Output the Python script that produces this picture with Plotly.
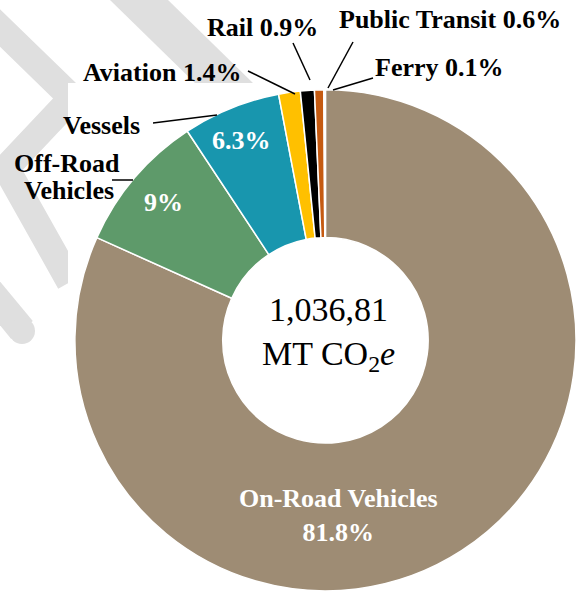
import plotly.graph_objects as go

# Transportation emissions by source (share of total, %)
labels = ['On-Road Vehicles', 'Off-Road Vehicles', 'Vessels', 'Aviation',
          'Rail', 'Public Transit', 'Ferry']
shares = [81.8, 9, 6.3, 1.4, 0.9, 0.6, 0.1]
colors = ['#9e8c74', '#5e9a6a', '#1896ae', '#ffc000',
          '#000000', '#c55a11', '#f4d6c0']
total_text = '1,036,81'

W, H = 576, 596
FONT = 'Liberation Serif, Times New Roman, Times, serif'


def px(x):
    return x / W


def py(y):
    return 1 - y / H


def path(points, close=True):
    s = 'M ' + ' L '.join(f'{px(x):.4f},{py(y):.4f}' for x, y in points)
    return s + (' Z' if close else '')


fig = go.Figure()

fig.add_trace(go.Pie(
    labels=labels,
    values=shares,
    marker=dict(colors=colors, line=dict(color='white', width=1.5)),
    hole=0.41,
    sort=False,
    direction='clockwise',
    rotation=0,
    textinfo='none',
    hovertemplate='%{label}: %{value}%<extra></extra>',
    showlegend=False,
    domain=dict(x=[0.13, 1.0], y=[0.006, 0.852]),
))

# grey watermark in the background, then the white panel behind the chart
grey = '#dfdfdf'
shapes = [
    dict(type='path', path=path([(110, 0), (168, 0), (255, 85), (197, 85)]),
         fillcolor=grey, line=dict(width=0), layer='below'),
    dict(type='path', path=path([(-35, -6), (72, 98), (6, 168), (70, 282)], close=False),
         line=dict(color=grey, width=27), layer='below'),
    dict(type='path', path=path([(-40, 255), (22, 330)], close=False),
         line=dict(color=grey, width=28), layer='below'),
    dict(type='circle', x0=px(9), x1=px(35), y0=py(318), y1=py(344),
         fillcolor=grey, line=dict(width=0), layer='below'),
    dict(type='rect', x0=px(68), x1=1, y0=0, y1=py(83),
         fillcolor='white', line=dict(width=0), layer='below'),
]

# leader lines
leaders = [
    ((293, 43), (310, 80)),    # Rail
    ((353, 42), (328, 88)),    # Public Transit
    ((373, 78), (333, 90)),    # Ferry
    ((248, 71), (295, 94)),    # Aviation
    ((153, 123), (217, 115)),  # Vessels
    ((112, 180), (133, 180)),  # Off-Road
]
for (x0, y0), (x1, y1) in leaders:
    shapes.append(dict(type='line', x0=px(x0), y0=py(y0), x1=px(x1), y1=py(y1),
                       line=dict(color='black', width=1.5)))

def pct(v):
    return f'{v:g}%'

# label text and position (pixel centre), colour
notes = [
    (f'{labels[4]} {pct(shares[4])}', 262, 27, 'black'),
    (f'{labels[5]} {pct(shares[5])}', 450, 19, 'black'),
    (f'{labels[6]} {pct(shares[6])}', 439, 68, 'black'),
    (f'{labels[3]} {pct(shares[3])}', 162, 72, 'black'),
    (labels[2], 101, 126, 'black'),
    (pct(shares[2]), 241, 140, 'white'),
    ('Off-Road', 67, 164, 'black'),
    ('Vehicles', 69, 191, 'black'),
    (pct(shares[1]), 163, 202, 'white'),
    (f'{labels[0]}<br>{pct(shares[0])}', 338, 515, 'white'),
]
annotations = []
for text, x, y, c in notes:
    annotations.append(dict(
        text=f'<b>{text}</b>', x=px(x), y=py(y), xref='paper', yref='paper',
        xanchor='center', yanchor='middle', showarrow=False,
        font=dict(family=FONT, size=26, color=c)))

annotations.append(dict(
    text=f'{total_text}<br>MT CO<sub>2</sub><i>e</i>', x=px(328), y=py(334),
    xref='paper', yref='paper', xanchor='center', yanchor='middle',
    showarrow=False, font=dict(family=FONT, size=34, color='black')))

fig.update_layout(
    width=W, height=H,
    margin=dict(l=0, r=0, t=0, b=0),
    paper_bgcolor='white',
    plot_bgcolor='white',
    shapes=shapes,
    annotations=annotations,
)

# drop the browser's default page margin so the figure sits at the corner
fig.write_html('out.html', config={'displayModeBar': False},
               post_script="document.body.style.margin='0';")
